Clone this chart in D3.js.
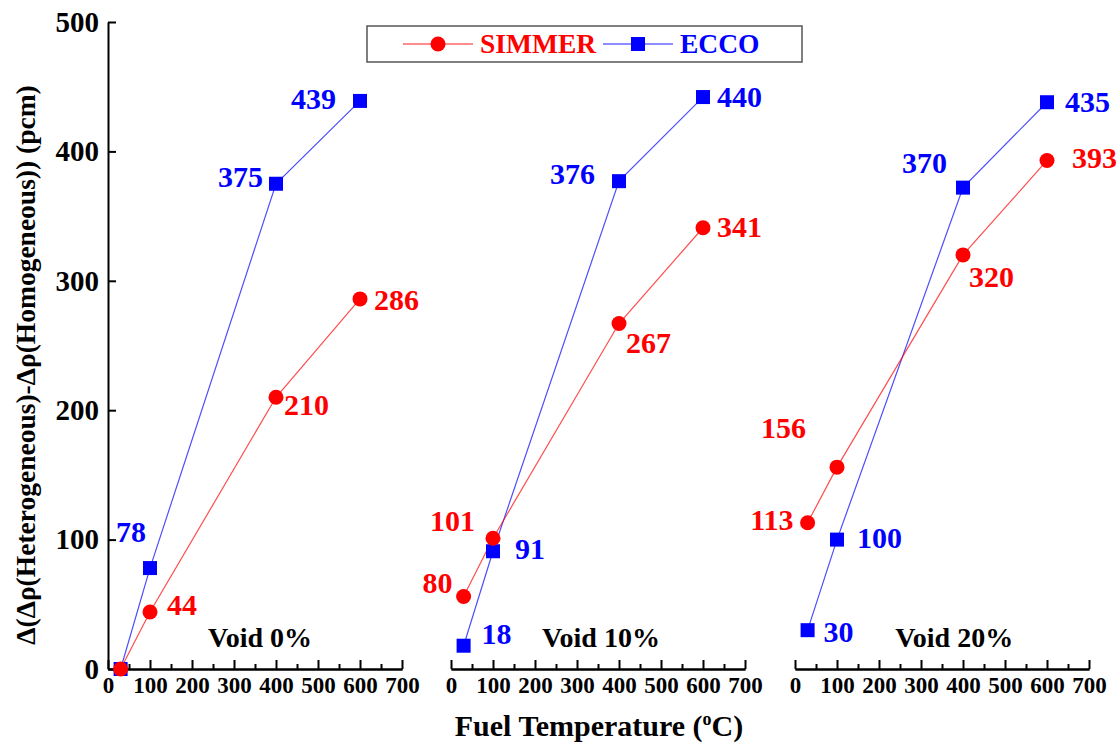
<!DOCTYPE html>
<html>
<head>
<meta charset="utf-8">
<script src="https://cdn.jsdelivr.net/npm/d3@7"></script>
<style>
  body { margin: 0; background: #fff; }
  text { font-family: "Liberation Serif", "Times New Roman", serif; font-weight: bold; }
  .axis path, .axis line { stroke: #000; stroke-width: 2; }
  .axis text { fill: #000; }
</style>
</head>
<body>
<script>
// data, one entry per void fraction panel
var panels = ["Void 0%", "Void 10%", "Void 20%"];
var temps = [30, 100, 400, 600];
var simmer = [[0, 44, 210, 286], [56, 101, 267, 341], [113, 156, 320, 393]];
var simmerLabels = [[null, "44", "210", "286"], ["80", "101", "267", "341"], ["113", "156", "320", "393"]];
var ecco = [[0, 78, 375, 439], [18, 91, 377, 442], [30, 100, 372, 438]];
var eccoLabels = [[null, "78", "375", "439"], ["18", "91", "376", "440"], ["30", "100", "370", "435"]];
var xTicks = [0, 100, 200, 300, 400, 500, 600, 700];
var yTicks = [0, 100, 200, 300, 400, 500];

// label placement (dx, dy, anchor) relative to each marker
var simmerPos = [
  [null, [17, 3, "start"], [8, 18, "start"], [14, 11, "start"]],
  [[-11, -4, "end"], [-18, -7, "end"], [7, 29, "start"], [14, 9, "start"]],
  [[-14, 7, "end"], [-31, -29, "end"], [6, 32, "start"], [25, 8, "start"]]
];
var eccoPos = [
  [null, [-4, -26, "end"], [-13, 3, "end"], [-24, 8, "end"]],
  [[18, -2, "start"], [22, 8, "start"], [-24, 3, "end"], [14, 10, "start"]],
  [[16, 12, "start"], [20, 8, "start"], [-16, -15, "end"], [18, 10, "start"]]
];
var voidAt = [[362, 17], [357, 17], [379, 17]];

var width = 1120, height = 744;
var panelLeft = [108, 451, 795], panelW = 294;
var red = "#ff0000", blue = "#0000ff";

var svg = d3.select("body").append("svg")
  .attr("width", width)
  .attr("height", height);

var y = d3.scaleLinear().domain([0, 500]).range([669, 22]);

// y axis
svg.append("g")
  .attr("class", "axis")
  .attr("transform", "translate(" + panelLeft[0] + ",0)")
  .call(d3.axisLeft(y).tickValues(yTicks).tickSizeInner(-8).tickSizeOuter(0).tickPadding(9))
  .selectAll("text").style("font-size", "29px");

svg.append("text")
  .attr("transform", "translate(35,365) rotate(-90)")
  .attr("text-anchor", "middle")
  .style("font-size", "27.5px")
  .text("Δ(Δρ(Heterogeneous)-Δρ(Homogeneous)) (pcm)");

var line = d3.line();

panels.forEach(function(name, i) {
  var x = d3.scaleLinear().domain([0, 700]).range([panelLeft[i], panelLeft[i] + panelW]);

  // minor ticks
  svg.append("g")
    .attr("class", "axis")
    .attr("transform", "translate(0," + y(0) + ")")
    .call(d3.axisBottom(x).tickValues(d3.range(50, 700, 100)).tickSizeInner(-5).tickSizeOuter(0).tickFormat(""));
  // major ticks
  svg.append("g")
    .attr("class", "axis")
    .attr("transform", "translate(0," + y(0) + ")")
    .call(d3.axisBottom(x).tickValues(xTicks).tickSizeInner(-9).tickSizeOuter(0).tickPadding(8))
    .selectAll("text").style("font-size", "23px");

  var series = [
    {vals: ecco[i], labels: eccoLabels[i], pos: eccoPos[i], color: blue, shape: "square"},
    {vals: simmer[i], labels: simmerLabels[i], pos: simmerPos[i], color: red, shape: "circle"}
  ];

  series.forEach(function(s) {
    var pts = temps.map(function(t, k) { return [x(t), y(s.vals[k])]; });
    svg.append("path")
      .attr("d", line(pts))
      .attr("fill", "none")
      .attr("stroke", s.color)
      .attr("stroke-opacity", 0.7)
      .attr("stroke-width", 1.2);
  });

  series.forEach(function(s) {
    var pts = temps.map(function(t, k) { return [x(t), y(s.vals[k])]; });
    if (s.shape == "circle") {
      svg.selectAll(null).data(pts).enter().append("circle")
        .attr("cx", function(d) { return d[0]; })
        .attr("cy", function(d) { return d[1]; })
        .attr("r", 7.5)
        .attr("fill", s.color);
    } else {
      svg.selectAll(null).data(pts).enter().append("rect")
        .attr("x", function(d) { return d[0] - 7; })
        .attr("y", function(d) { return d[1] - 7; })
        .attr("width", 14)
        .attr("height", 14)
        .attr("fill", s.color);
    }
    pts.forEach(function(p, k) {
      if (!s.labels[k]) return;
      svg.append("text")
        .attr("x", p[0] + s.pos[k][0])
        .attr("y", p[1] + s.pos[k][1])
        .attr("text-anchor", s.pos[k][2])
        .attr("fill", s.color)
        .style("font-size", "30px")
        .text(s.labels[k]);
    });
  });

  svg.append("text")
    .attr("x", x(voidAt[i][0]))
    .attr("y", y(voidAt[i][1]))
    .attr("text-anchor", "middle")
    .style("font-size", "28px")
    .text(name);
});

// x title
var xt = svg.append("text")
  .attr("x", 599)
  .attr("y", 736)
  .attr("text-anchor", "middle")
  .style("font-size", "30px");
xt.append("tspan").text("Fuel Temperature (");
xt.append("tspan").attr("dy", -11).style("font-size", "18px").text("o");
xt.append("tspan").attr("dy", 11).text("C)");

// legend
var lg = svg.append("g");
lg.append("rect")
  .attr("x", 367).attr("y", 26)
  .attr("width", 435).attr("height", 36)
  .attr("fill", "#fff")
  .attr("stroke", "#555")
  .attr("stroke-width", 1.5);
var legendItems = [
  {name: "SIMMER", color: red, shape: "circle", x0: 403},
  {name: "ECCO", color: blue, shape: "square", x0: 603}
];
legendItems.forEach(function(d) {
  lg.append("line")
    .attr("x1", d.x0).attr("x2", d.x0 + 70)
    .attr("y1", 44).attr("y2", 44)
    .attr("stroke", d.color).attr("stroke-opacity", 0.6).attr("stroke-width", 1.5);
  if (d.shape == "circle") {
    lg.append("circle").attr("cx", d.x0 + 35).attr("cy", 44).attr("r", 7.5).attr("fill", d.color);
  } else {
    lg.append("rect").attr("x", d.x0 + 28).attr("y", 37).attr("width", 14).attr("height", 14).attr("fill", d.color);
  }
  lg.append("text")
    .attr("x", d.x0 + 77)
    .attr("y", 53)
    .attr("fill", d.color)
    .style("font-size", "27.5px")
    .text(d.name);
});
</script>
</body>
</html>
